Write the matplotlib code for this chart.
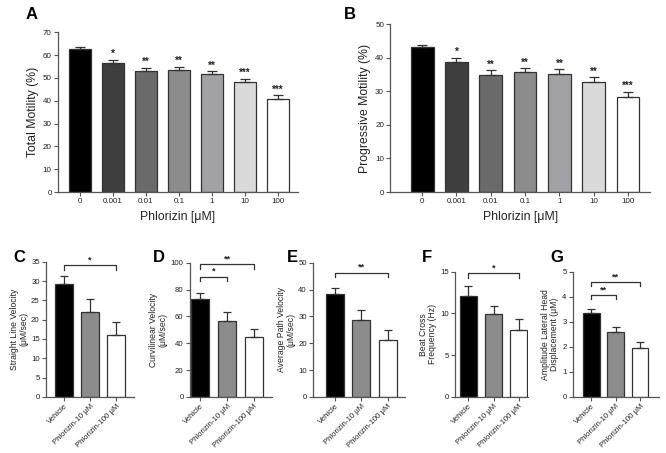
import numpy as np
import matplotlib
matplotlib.use('Agg')
import matplotlib.pyplot as plt

plt.rcParams['font.family'] = ['Liberation Sans', 'DejaVu Sans']

# dose-response panels (A, B)
doses = ['0', '0.001', '0.01', '0.1', '1', '10', '100']
total_mot = [62.6, 56.6, 53.1, 53.4, 51.6, 48.1, 40.8]
total_err = [1.0, 1.4, 1.4, 1.4, 1.3, 1.5, 1.5]
total_sig = ['', '*', '**', '**', '**', '***', '***']
prog_mot = [43.1, 38.6, 34.9, 35.8, 35.2, 32.8, 28.4]
prog_err = [0.8, 1.2, 1.3, 1.0, 1.3, 1.3, 1.3]
prog_sig = ['', '*', '**', '**', '**', '**', '***']
dose_colors = ['#000000', '#3e3e3e', '#6a6a6a', '#8c8c8c', '#a2a2a6', '#dadada', '#ffffff']

# velocity panels (C-G)
groups = ['Vehicle', 'Phlorizin-10 μM', 'Phlorizin-100 μM']
vsl = [29.3, 21.9, 16.1]
vsl_err = [2.0, 3.4, 3.2]
vcl = [72.9, 56.8, 44.3]
vcl_err = [4.6, 6.4, 6.5]
vap = [38.5, 28.7, 21.3]
vap_err = [2.2, 3.8, 3.5]
bcf = [12.1, 9.96, 7.98]
bcf_err = [1.2, 0.95, 1.3]
alh = [3.36, 2.58, 1.96]
alh_err = [0.16, 0.2, 0.23]
group_colors = ['#000000', '#8c8c8c', '#ffffff']

EDGE = '#333333'
SPINE = '#555555'

fig = plt.figure(figsize=(6.66, 4.53), dpi=100)


def style(ax, fs):
    for s in ['top', 'right']:
        ax.spines[s].set_visible(False)
    for s in ['left', 'bottom']:
        ax.spines[s].set_color(SPINE)
        ax.spines[s].set_linewidth(0.9)
    ax.tick_params(colors=SPINE, labelcolor='#222222', labelsize=fs,
                   length=3, width=0.8, pad=1.5)


def top_panel(rect, vals, errs, sig, ylabel, ymax, step, xlim, letter, lpos):
    ax = fig.add_axes(rect)
    x = np.arange(len(vals))
    ax.bar(x, vals, width=0.66, color=dose_colors, edgecolor=EDGE, linewidth=0.9)
    ax.errorbar(x, vals, yerr=[np.zeros(len(errs)), errs], fmt='none',
                ecolor=EDGE, elinewidth=0.9, capsize=3.5, capthick=0.9)
    for xi, v, e, s in zip(x, vals, errs, sig):
        if s:
            ax.text(xi, v + e + 0.3 * step / 10, s, ha='center', va='bottom',
                    fontsize=7, fontweight='bold', color='#222222')
    ax.set_xlim(*xlim)
    ax.set_ylim(0, ymax)
    ax.set_yticks(np.arange(0, ymax + 0.1, step))
    ax.set_xticks(x)
    ax.set_xticklabels(doses)
    ax.set_ylabel(ylabel, fontsize=8.8, color='#222222', labelpad=3)
    ax.set_xlabel('Phlorizin [μM]', fontsize=8.8, color='#222222', labelpad=4)
    style(ax, 5.8)
    fig.text(lpos[0], lpos[1], letter, fontsize=12, fontweight='bold',
             ha='left', va='center')
    return ax


top_panel([0.087, 0.576, 0.360, 0.353], total_mot, total_err, total_sig,
          'Total Motility (%)', 70, 10, (-0.67, 6.6), 'A', (0.038, 0.968))
top_panel([0.586, 0.576, 0.390, 0.371], prog_mot, prog_err, prog_sig,
          'Progressive Motility (%)', 50, 10, (-0.93, 6.64), 'B', (0.516, 0.968))


def bottom_panel(rect, vals, errs, ylabel, ymax, step, xlim, brackets, letter, lpos):
    ax = fig.add_axes(rect)
    x = np.arange(len(vals))
    ax.bar(x, vals, width=0.68, color=group_colors, edgecolor=EDGE, linewidth=0.9)
    ax.errorbar(x, vals, yerr=[np.zeros(len(errs)), errs], fmt='none',
                ecolor=EDGE, elinewidth=0.9, capsize=3.2, capthick=0.9)
    tick = ymax * 0.035
    for x0, x1, y, s in brackets:
        ax.plot([x0, x0, x1, x1], [y - tick, y, y, y - tick], color=EDGE,
                lw=0.9, clip_on=False)
        ax.text((x0 + x1) / 2, y + ymax * 0.005, s, ha='center', va='bottom',
                fontsize=6.5, fontweight='bold', color='#222222')
    ax.set_xlim(*xlim)
    ax.set_ylim(0, ymax)
    ax.set_yticks(np.arange(0, ymax + 0.01, step))
    ax.set_xticks(x)
    ax.set_xticklabels(groups, rotation=45, ha='right', rotation_mode='anchor')
    ax.set_ylabel(ylabel, fontsize=6.2, color='#222222', labelpad=2,
                  linespacing=1.1)
    style(ax, 5.6)
    fig.text(lpos[0], lpos[1], letter, fontsize=12, fontweight='bold',
             ha='left', va='center')
    return ax


bottom_panel([0.069, 0.124, 0.132, 0.298], vsl, vsl_err,
             'Straight Line Velocity\n(μM/sec)', 35, 5, (-0.69, 2.69),
             [(0, 2, 34.2, '*')], 'C', (0.020, 0.432))
bottom_panel([0.285, 0.124, 0.123, 0.296], vcl, vcl_err,
             'Curvilinear Velocity\n(μM/sec)', 100, 20, (-0.39, 2.67),
             [(0, 1, 89.6, '*'), (0, 2, 99, '**')], 'D', (0.230, 0.432))
bottom_panel([0.470, 0.124, 0.138, 0.296], vap, vap_err,
             'Average Path Velocity\n(μM/sec)', 50, 10, (-0.83, 2.66),
             [(0, 2, 46.3, '**')], 'E', (0.430, 0.432))
bottom_panel([0.683, 0.124, 0.110, 0.276], bcf, bcf_err,
             'Beat Cross\nFrequency (Hz)', 15, 5, (-0.54, 2.38),
             [(0, 2, 14.8, '*')], 'F', (0.634, 0.432))
bottom_panel([0.860, 0.124, 0.129, 0.276], alh, alh_err,
             'Amplitude Lateral Head\nDisplacement (μM)', 5, 1, (-0.76, 2.76),
             [(0, 1, 4.08, '**'), (0, 2, 4.6, '**')], 'G', (0.827, 0.432))

fig.savefig('out.png', dpi=100)
